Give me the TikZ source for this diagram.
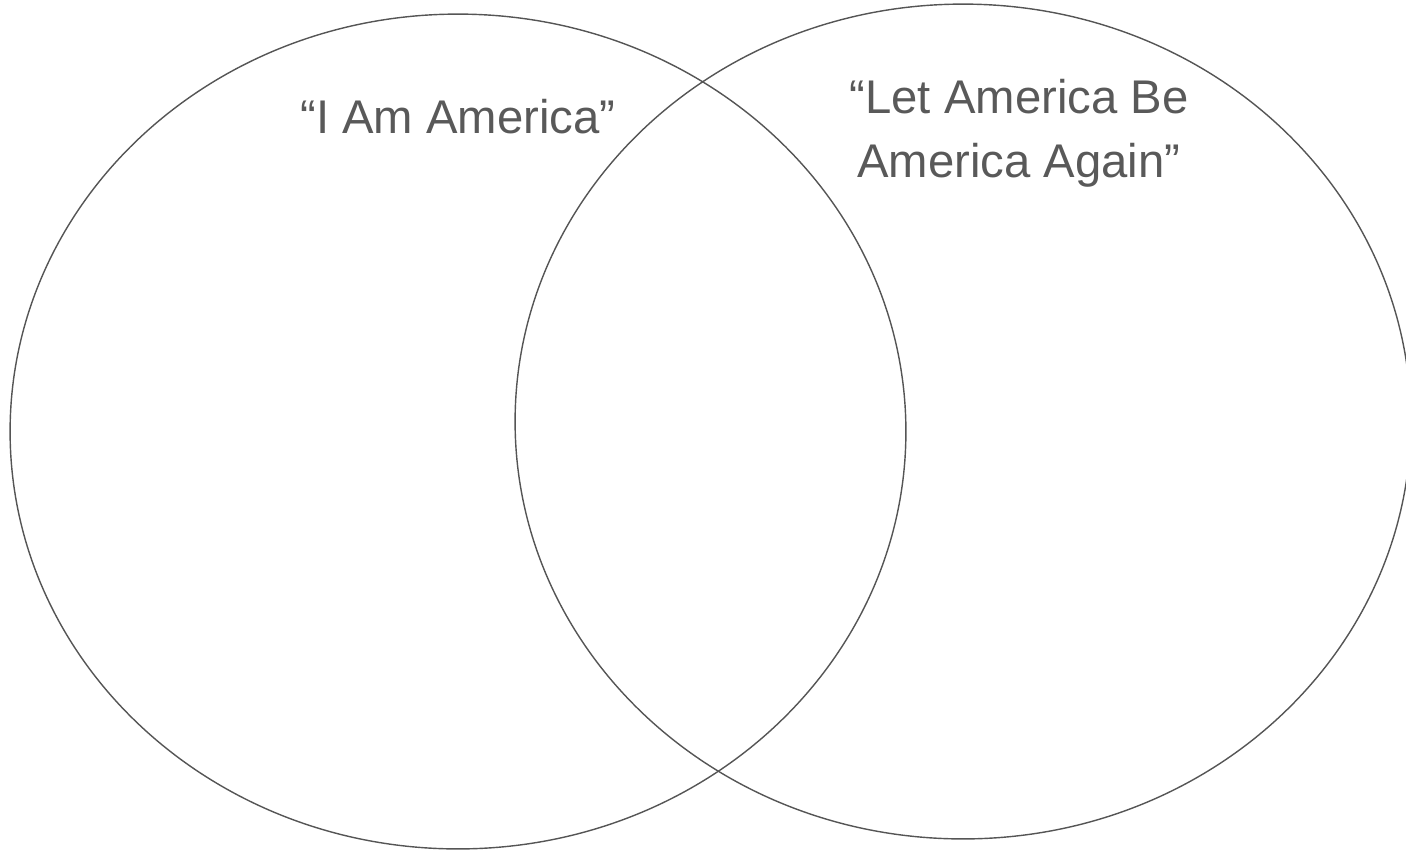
\documentclass[tikz,border=0pt]{standalone}
\usepackage{fontspec}
\setmainfont{Liberation Sans}
\usetikzlibrary{shapes.geometric}
\definecolor{venngray}{HTML}{595959}
\definecolor{vennline}{HTML}{555555}
\tikzset{
	vennset/.style={
			ellipse,
			draw=vennline,
			line width=0.8pt,
			inner sep=0pt,
			minimum width=17.92cm,
			minimum height=16.7cm
		},
	poemtitle/.style={
			font=\fontsize{26.9}{36.4}\selectfont,
			text=venngray,
			align=center,
			inner sep=0pt,
			anchor=base
		}
}

\begin{document}
\begin{tikzpicture}[x=0.02cm, y=-0.02cm]
        \useasboundingbox (0,0) rectangle (1406,850);

        \node[vennset] at (458,431.5) (iam) {};
        \node[vennset] at (963,421.5) (letamerica) {};

        \node[poemtitle] at (458,133) (iamtext) {“I Am America”};
        \node[poemtitle] at (1019,177) (letamericatext) {“Let America Be\\America Again”};
      \end{tikzpicture}
\end{document}
